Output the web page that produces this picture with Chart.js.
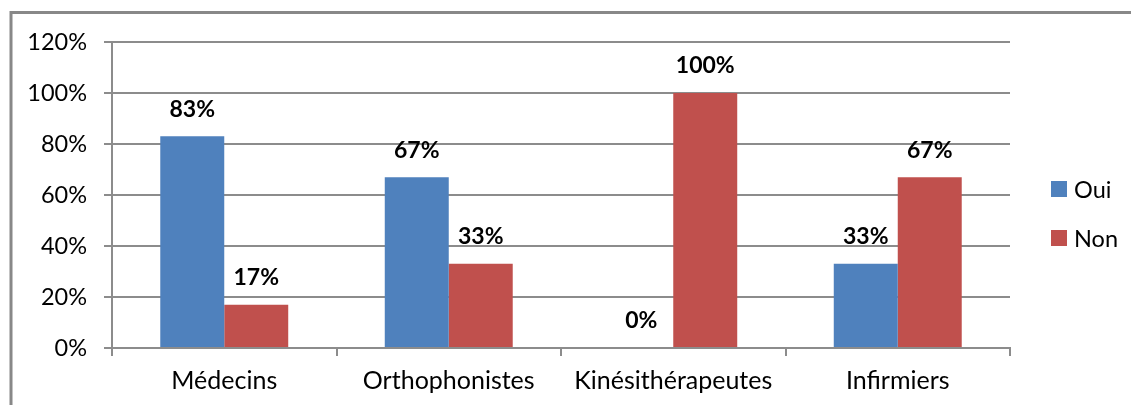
<!DOCTYPE html>
<html>
<head>
<meta charset="utf-8">
<script src="https://cdn.jsdelivr.net/npm/chart.js@4"></script>
<style>
html,body{margin:0;padding:0;background:#fff;}
#wrap{position:relative;width:1131px;height:405px;}
</style>
</head>
<body>
<div id="wrap"><canvas id="c" width="1131" height="405"></canvas></div>
<script>
const categories = ['Médecins', 'Orthophonistes', 'Kinésithérapeutes', 'Infirmiers'];
const ouiValues = [83, 67, 0, 33];
const nonValues = [17, 33, 100, 67];
const seriesNames = ['Oui', 'Non'];
const yTicks = [0, 20, 40, 60, 80, 100, 120];

const FONT = 'Lato, "Open Sans", sans-serif';
const GRID = '#8c8c8c';

const framePlugin = {
  id: 'frame',
  beforeDraw(chart) {
    const ctx = chart.ctx;
    ctx.save();
    ctx.fillStyle = '#fff';
    ctx.fillRect(0, 0, chart.width, chart.height);
    ctx.strokeStyle = '#888888';
    ctx.lineWidth = 3;
    ctx.beginPath();
    ctx.moveTo(11, chart.height + 5);
    ctx.lineTo(11, 12.5);
    ctx.lineTo(chart.width + 5, 12.5);
    ctx.stroke();
    ctx.restore();
  }
};

const labelPlugin = {
  id: 'valueLabels',
  afterDatasetsDraw(chart) {
    const ctx = chart.ctx;
    ctx.save();
    ctx.font = 'bold 23px ' + FONT;
    ctx.fillStyle = '#000';
    ctx.textAlign = 'center';
    ctx.textBaseline = 'middle';
    chart.data.datasets.forEach((ds, i) => {
      chart.getDatasetMeta(i).data.forEach((bar, j) => {
        ctx.fillText(ds.data[j] + '%', bar.x, bar.y - 27);
      });
    });
    ctx.restore();
  }
};

const legendPlugin = {
  id: 'customLegend',
  afterDraw(chart) {
    const ctx = chart.ctx;
    ctx.save();
    ctx.font = '23.5px ' + FONT;
    ctx.textBaseline = 'middle';
    ctx.textAlign = 'left';
    chart.data.datasets.forEach((ds, i) => {
      const cy = 189 + i * 49;
      ctx.fillStyle = ds.backgroundColor;
      ctx.fillRect(1051, cy - 8, 16, 16);
      ctx.fillStyle = '#000';
      ctx.fillText(ds.label, 1074, cy + 1);
    });
    ctx.restore();
  }
};

new Chart(document.getElementById('c'), {
  type: 'bar',
  data: {
    labels: categories,
    datasets: [
      { label: seriesNames[0], data: ouiValues, backgroundColor: '#4F81BD', categoryPercentage: 0.57, barPercentage: 1 },
      { label: seriesNames[1], data: nonValues, backgroundColor: '#C0504D', categoryPercentage: 0.57, barPercentage: 1 }
    ]
  },
  options: {
    responsive: false,
    animation: false,
    layout: { padding: { left: 0, top: 42, right: 121, bottom: 0 } },
    plugins: { legend: { display: false }, tooltip: { enabled: false } },
    scales: {
      x: {
        afterFit(s) { s.height = 57; },
        grid: { offset: true, drawOnChartArea: false, drawTicks: true, tickLength: 8, color: GRID, lineWidth: 2 },
        border: { display: true, color: GRID, width: 2 },
        ticks: { color: '#000', font: { family: FONT, size: 25 }, padding: 10 }
      },
      y: {
        min: 0, max: 120,
        afterFit(s) { s.width = 112; },
        afterBuildTicks(s) { s.ticks = yTicks.map(v => ({ value: v })); },
        grid: { color: GRID, lineWidth: 2, tickLength: 8 },
        border: { display: true, color: GRID, width: 2 },
        ticks: { color: '#000', font: { family: FONT, size: 23.5 }, padding: 17, callback: v => v + '%' }
      }
    }
  },
  plugins: [framePlugin, labelPlugin, legendPlugin]
});
</script>
</body>
</html>
